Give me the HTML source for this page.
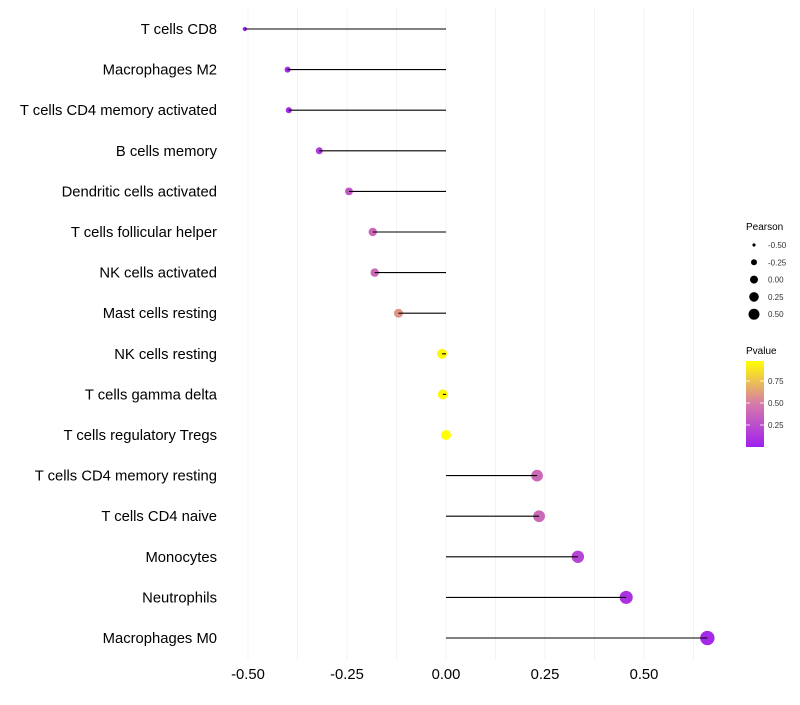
<!DOCTYPE html>
<html><head><meta charset="utf-8"><style>
body{margin:0;background:#fff;font-family:"Liberation Sans",sans-serif}
</style></head><body>
<svg id="chart" width="800" height="700" xmlns="http://www.w3.org/2000/svg" font-family="Liberation Sans, sans-serif"></svg>
<script>
const categories=["T cells CD8","Macrophages M2","T cells CD4 memory activated","B cells memory","Dendritic cells activated","T cells follicular helper","NK cells activated","Mast cells resting","NK cells resting","T cells gamma delta","T cells regulatory  Tregs ","T cells CD4 memory resting","T cells CD4 naive","Monocytes","Neutrophils","Macrophages M0"];
const pearson=[-0.508,-0.40,-0.397,-0.32,-0.245,-0.185,-0.18,-0.12,-0.01,-0.008,0.0,0.23,0.235,0.333,0.455,0.66];
const pvalues=[0.02,0.05,0.05,0.15,0.3,0.4,0.4,0.6,0.97,0.97,1.0,0.4,0.4,0.2,0.1,0.05];
const xTicks=[-0.5,-0.25,0,0.25,0.5];
const xTickLabels=["-0.50","-0.25","0.00","0.25","0.50"];
const sizeLegend=[-0.5,-0.25,0,0.25,0.5];
const sizeLegendLabels=["-0.50","-0.25","0.00","0.25","0.50"];
const colorTicks=[0.75,0.5,0.25];
const colorTickLabels=["0.75","0.50","0.25"];

const svg=document.getElementById('chart');
const NS="http://www.w3.org/2000/svg";
const x=v=>446+v*396;
const y=i=>29+i*40.6;
const r=v=>Math.sqrt(Math.max(2.2,25+40*v));
const rl=v=>Math.sqrt(Math.max(2.5,16+28*v));
function col(p){
  const stops=[[0,[160,32,240]],[0.5,[214,122,170]],[1,[255,255,0]]];
  let a=stops[0],b=stops[1];if(p>0.5){a=stops[1];b=stops[2];}
  const t=(p-a[0])/(b[0]-a[0]);
  const c=a[1].map((v,k)=>Math.round(v+(b[1][k]-v)*t));
  return `rgb(${c[0]},${c[1]},${c[2]})`;
}
function el(tag,attrs,txt){const e=document.createElementNS(NS,tag);for(const k in attrs)e.setAttribute(k,attrs[k]);if(txt!==undefined)e.textContent=txt;svg.appendChild(e);return e;}

for(let g=-0.5;g<=0.626;g+=0.125){
  const l=el('line',{x1:x(g),x2:x(g),y1:8,y2:660,stroke:'#ebebeb','stroke-width':0.6});
  
  
}
categories.forEach((c,i)=>{
  const t=el('text',{x:217,y:y(i)+5,'text-anchor':'end','font-size':14.8,fill:'#000'},c);
  
  
  const d=el('circle',{cx:x(pearson[i]),cy:y(i),r:r(pearson[i]),fill:col(pvalues[i])});
  
  
  const l=el('line',{x1:x(0),x2:x(pearson[i]),y1:y(i),y2:y(i),stroke:'#000','stroke-width':1.1});
  
  
});
xTicks.forEach((v,i)=>{
  const t=el('text',{x:x(v),y:679,'text-anchor':'middle','font-size':14.8,fill:'#000'},xTickLabels[i]);
  
  
});
const lt=el('text',{x:746,y:230,'font-size':10,fill:'#000'},'Pearson');


sizeLegend.forEach((v,i)=>{
  const cy=245+i*17.3;
  const c=el('circle',{cx:754,cy:cy,r:rl(v),fill:'#000'});
  
  
  const t=el('text',{x:768,y:cy+3,'font-size':8,fill:'#333'},sizeLegendLabels[i]);
  
  
});
const ct=el('text',{x:746,y:354,'font-size':10,fill:'#000'},'Pvalue');


const defs=el('defs',{});
const grad=document.createElementNS(NS,'linearGradient');
grad.setAttribute('id','pg');grad.setAttribute('x1','0');grad.setAttribute('y1','1');grad.setAttribute('x2','0');grad.setAttribute('y2','0');
[0,0.25,0.5,0.75,1].forEach(s=>{const st=document.createElementNS(NS,'stop');st.setAttribute('offset',s);st.setAttribute('stop-color',col(s));grad.appendChild(st);});
defs.appendChild(grad);
const bar=el('rect',{x:746,y:361,width:18,height:86,fill:'url(#pg)'});


colorTicks.forEach((v,i)=>{
  const cy=447-(v-0.0)*88;
  el('line',{x1:746,x2:750,y1:cy,y2:cy,stroke:'#fff','stroke-width':0.8});
  el('line',{x1:760,x2:764,y1:cy,y2:cy,stroke:'#fff','stroke-width':0.8});
  const t=el('text',{x:768,y:cy+3,'font-size':8,fill:'#333'},colorTickLabels[i]);
  
  
});
</script>
</body></html>
